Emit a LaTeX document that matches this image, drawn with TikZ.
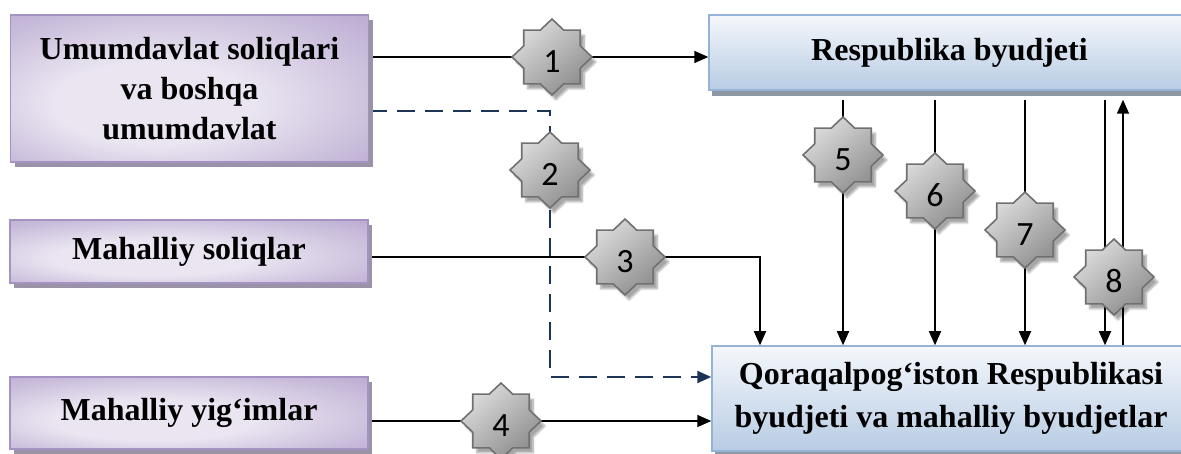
\documentclass[tikz,border=0pt]{standalone}
\usepackage{fontspec}
\setmainfont{Liberation Serif}
\newfontfamily\numfont{Carlito}
\usetikzlibrary{arrows.meta,shadows,shadows.blur,backgrounds}

\definecolor{lavdark}{HTML}{A491C0}
\definecolor{lavmid}{HTML}{C6B9D9}
\definecolor{lavlight}{HTML}{EAE5F1}
\definecolor{lavedge}{HTML}{A493C2}
\definecolor{lavshadow}{HTML}{9A92A6}
\definecolor{bluetop}{HTML}{F4F7FB}
\definecolor{bluebot}{HTML}{B8CCE4}
\definecolor{blueedge}{HTML}{95B3D7}
\definecolor{blueshadow}{HTML}{8E98A3}
\definecolor{starhi}{HTML}{DCDCDC}
\definecolor{starlo}{HTML}{8E8E8E}
\definecolor{staredge}{HTML}{707070}
\definecolor{navy}{HTML}{1B3457}

% soft lavender glow: light towards lower left, deepest in the upper right corner
\pgfdeclareradialshading{lavglow}{\pgfpoint{-7bp}{-7bp}}{%
  color(0bp)=(lavlight); color(14bp)=(lavlight); color(32bp)=(lavmid); color(50bp)=(lavdark)}

% eight-pointed badge (square + diamond) with its number node on top
\newcommand\badge[4]{%
  \path[badgefill] (#2,#3)
    +(90:40 and 38) -- +(112.5:30.6 and 29.1) -- +(135:40 and 38) -- +(157.5:30.6 and 29.1)
 -- +(180:40 and 38) -- +(202.5:30.6 and 29.1) -- +(225:40 and 38) -- +(247.5:30.6 and 29.1)
 -- +(270:40 and 38) -- +(292.5:30.6 and 29.1) -- +(315:40 and 38) -- +(337.5:30.6 and 29.1)
 -- +(0:40 and 38) -- +(22.5:30.6 and 29.1) -- +(45:40 and 38) -- +(67.5:30.6 and 29.1) -- cycle;
  \node[badgetext] (#1) at (#2,#3) {#4};}

\begin{document}
\begin{tikzpicture}[x=1pt,y=-1pt,
  srcbox/.style={draw=lavedge, line width=1.5pt, shading=lavglow,
    drop shadow={shadow xshift=4pt, shadow yshift=-5pt, fill=lavshadow, opacity=1},
    minimum width=358pt, inner sep=0pt, align=center,
    font=\fontsize{32}{40}\selectfont\bfseries},
  budbox/.style={draw=blueedge, line width=1.5pt,
    top color=bluetop, bottom color=bluebot,
    drop shadow={shadow xshift=3pt, shadow yshift=-6pt, fill=blueshadow, opacity=1},
    inner sep=0pt, align=center,
    font=\fontsize{32}{43}\selectfont\bfseries},
  badgefill/.style={draw=staredge, line width=1.6pt, line join=miter,
    top color=starhi, bottom color=starlo, shading angle=40,
    blur shadow={shadow xshift=4pt, shadow yshift=-5pt, shadow blur steps=6, shadow opacity=35}},
  badgetext/.style={circle, inner sep=0pt, minimum size=56pt,
    font=\numfont\fontsize{34}{34}\selectfont, text height=31pt, text depth=0pt},
  flow/.style={line width=1.6pt, black, -{Triangle[length=14pt,width=12pt]}},
  dflow/.style={line width=2.2pt, navy, dash pattern=on 18pt off 10pt,
    -{Triangle[length=14pt,width=12pt]}}
]
\useasboundingbox (0,0) rectangle (1181,454);

% revenue sources
\node[srcbox, minimum height=147pt] (A) at (189.5,88.5) {Umumdavlat soliqlari\\va boshqa\\umumdavlat};
\node[srcbox, minimum height=63pt] (B) at (189,251.5) {Mahalliy soliqlar};
\node[srcbox, minimum height=72pt] (C) at (189,413) {Mahalliy yig‘imlar};

% budgets
\node[budbox, minimum width=481pt, minimum height=75pt] (R) at (949.5,52.5) {Respublika byudjeti};
\node[budbox, minimum width=478pt, minimum height=105pt] (Q) at (951,398.5)
  {Qoraqalpog‘iston Respublikasi\\byudjeti va mahalliy byudjetlar};

% numbered badges
\badge{s1}{552}{57}{1}
\badge{s2}{550}{170}{2}
\badge{s3}{625}{257}{3}
\badge{s4}{501}{421}{4}
\badge{s5}{843}{155}{5}
\badge{s6}{935}{191}{6}
\badge{s7}{1025}{230}{7}
\badge{s8}{1114}{277}{8}

% connectors
\coordinate (k2a) at (550,111);
\coordinate (k2b) at (550,377);
\coordinate (k3) at (760,257);
\coordinate (rb) at ([yshift=-9pt]R.south);
\coordinate (d8) at ([xshift=-9pt]s8);
\coordinate (u8) at ([xshift=9pt]s8);
\begin{scope}[on background layer]
  \draw[flow] (A.east |- s1) -- (R.west |- s1);
  \draw[dflow] (A.east |- k2a) -- (k2a) -- (k2b) -- (Q.west |- k2b);
  \draw[flow] (B.east |- s3) -- (k3) -- (k3 |- Q.north);
  \draw[flow] (C.east |- s4) -- (Q.west |- s4);
  \foreach \s in {s5,s6,s7}
    \draw[flow] (\s |- rb) -- (\s |- Q.north);
  \draw[flow] (d8 |- rb) -- (d8 |- Q.north);
  \draw[flow] (u8 |- Q.north) -- (u8 |- rb);
\end{scope}
\end{tikzpicture}
\end{document}
